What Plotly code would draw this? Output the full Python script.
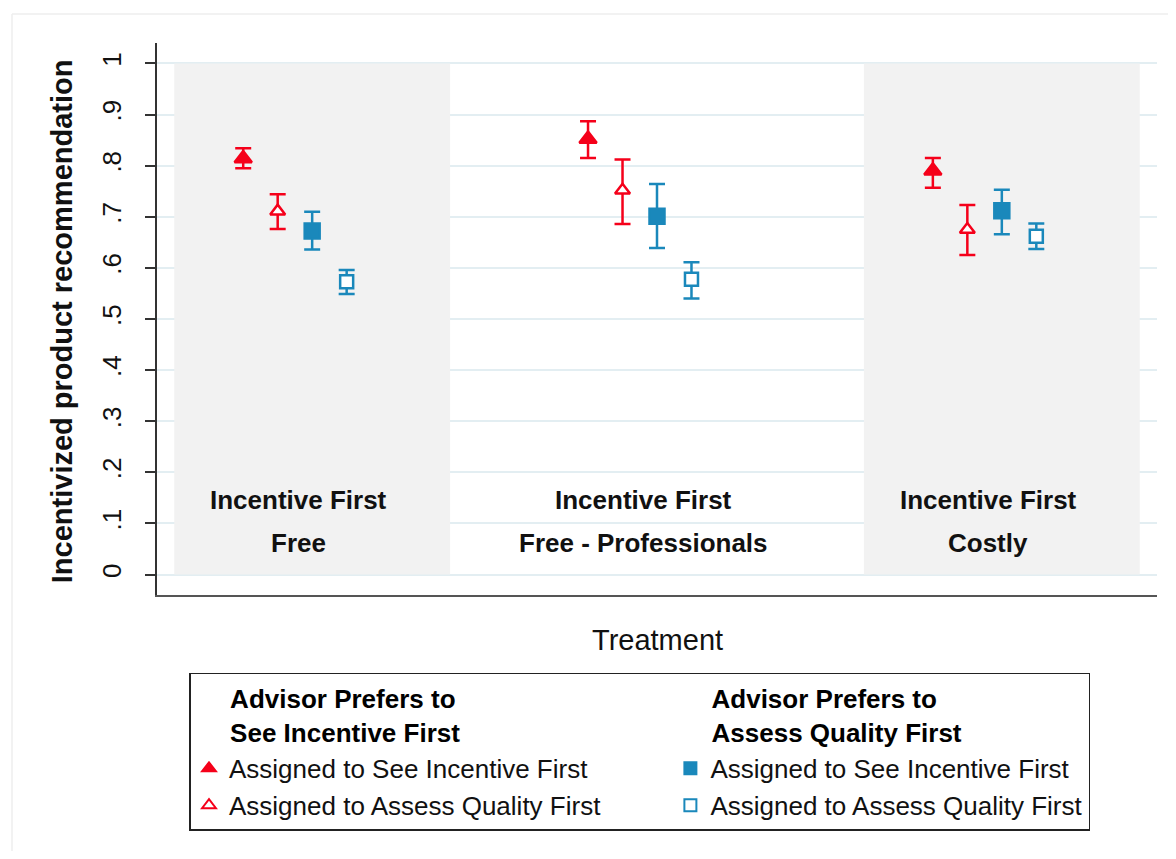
import plotly.graph_objects as go

# ---- data ----
treatments = ["Free", "Free - Professionals", "Costly"]
treatment_line1 = ["Incentive First", "Incentive First", "Incentive First"]
group_base = [1, 11, 21]

series_names = [
    "Assigned to See Incentive First",
    "Assigned to Assess Quality First",
    "Assigned to See Incentive First",
    "Assigned to Assess Quality First",
]
series_groups = [
    "Advisor Prefers to<br>See Incentive First",
    "Advisor Prefers to<br>See Incentive First",
    "Advisor Prefers to<br>Assess Quality First",
    "Advisor Prefers to<br>Assess Quality First",
]

mean_ii = [0.814, 0.852, 0.790]
lo_ii = [0.795, 0.815, 0.757]
hi_ii = [0.834, 0.887, 0.815]

mean_iq = [0.711, 0.752, 0.675]
lo_iq = [0.676, 0.686, 0.625]
hi_iq = [0.744, 0.812, 0.723]

mean_qi = [0.672, 0.701, 0.712]
lo_qi = [0.636, 0.639, 0.666]
hi_qi = [0.710, 0.764, 0.753]

mean_qq = [0.573, 0.578, 0.662]
lo_qq = [0.549, 0.540, 0.637]
hi_qq = [0.596, 0.611, 0.687]

y_ticks = [0, 0.1, 0.2, 0.3, 0.4, 0.5, 0.6, 0.7, 0.8, 0.9, 1.0]
y_ticktext = ["0", ".1", ".2", ".3", ".4", ".5", ".6", ".7", ".8", ".9", "1"]

# ---- styling ----
RED = "#f5001a"
BLUE = "#1a88bb"
FONT = "Liberation Sans, Arial, Helvetica, sans-serif"
IND = "\u00a0\u00a0\u00a0\u00a0\u00a0"
COLPAD = "\u00a0" * 9  # pushes the second legend column to the right

means = [mean_ii, mean_iq, mean_qi, mean_qq]
los = [lo_ii, lo_iq, lo_qi, lo_qq]
his = [hi_ii, hi_iq, hi_qi, hi_qq]
colors = [RED, RED, BLUE, BLUE]
symbols = ["triangle-up", "triangle-up", "square", "square"]
fills = [RED, "white", BLUE, "white"]
sizes = [15, 13, 15, 13]

fig = go.Figure()
for k in range(4):
    xs = [b + k for b in group_base]
    m = means[k]
    gtitle = IND + series_groups[k].replace("<br>", "<br>" + IND)
    label = series_names[k] + (COLPAD if k == 1 else "")
    fig.add_trace(go.Scatter(
        x=xs, y=m, mode="markers",
        name=label,
        legendgroup=series_groups[k],
        legendgrouptitle=dict(text=gtitle,
                              font=dict(family=FONT, size=26, color="black", weight="bold")),
        marker=dict(symbol=symbols[k], size=sizes[k], color=fills[k],
                    line=dict(color=colors[k], width=2.5)),
        error_y=dict(type="data", symmetric=False,
                     array=[h - v for h, v in zip(his[k], m)],
                     arrayminus=[v - l for l, v in zip(los[k], m)],
                     color=colors[k], thickness=2.5, width=8),
    ))

shapes = []
# grey treatment panels
for x0, x1 in [(-1, 7), (19, 27)]:
    shapes.append(dict(type="rect", xref="x", yref="y", x0=x0, x1=x1, y0=0, y1=1,
                       fillcolor="#f2f2f2", line=dict(width=0), layer="between"))
# faint outer graph-region frame
shapes.append(dict(type="line", xref="paper", yref="paper", x0=-0.145, x1=1.03,
                   y0=1.0525, y1=1.0525, line=dict(color="#eeeeee", width=1.5)))
shapes.append(dict(type="line", xref="paper", yref="paper", x0=-0.145, x1=-0.145,
                   y0=-0.5, y1=1.0525, line=dict(color="#eeeeee", width=1.5)))

annotations = []
for i in range(3):
    cx = group_base[i] + 1.6
    annotations.append(dict(x=cx, y=0.146, xref="x", yref="y", text=treatment_line1[i],
                            showarrow=False, xanchor="center", yanchor="middle",
                            font=dict(family=FONT, size=26, color="#111", weight="bold")))
    annotations.append(dict(x=cx, y=0.062, xref="x", yref="y", text=treatments[i],
                            showarrow=False, xanchor="center", yanchor="middle",
                            font=dict(family=FONT, size=26, color="#111", weight="bold")))
annotations.append(dict(x=0.5, y=-0.0815, xref="paper", yref="paper", text="Treatment",
                        showarrow=False, xanchor="center", yanchor="middle",
                        font=dict(family=FONT, size=29, color="#111")))
annotations.append(dict(x=-0.095, y=0.496, xref="paper", yref="paper",
                        text="Incentivized product recommendation", textangle=-90,
                        showarrow=False, xanchor="center", yanchor="middle",
                        font=dict(family=FONT, size=29, color="#111", weight="bold")))

fig.update_layout(
    width=1160, height=843,
    margin=dict(l=149, r=11, t=35, b=256, autoexpand=False),
    paper_bgcolor="white", plot_bgcolor="white",
    font=dict(family=FONT, color="#111"),
    shapes=shapes, annotations=annotations,
    showlegend=True,
    legend=dict(orientation="h", traceorder="grouped", x=0.032, y=-0.141,
                xanchor="left", yanchor="top",
                bordercolor="#222", borderwidth=1.5, bgcolor="white",
                font=dict(family=FONT, size=26, color="#111"),
                itemsizing="constant"),
    xaxis=dict(range=[-1.5, 27.5], showgrid=False, zeroline=False,
               showticklabels=False, ticks="", showline=True,
               linecolor="#555", linewidth=2),
    yaxis=dict(range=[-0.04, 1.04], tickvals=y_ticks, ticktext=y_ticktext,
               tickangle=-90, ticks="outside", ticklen=10, tickwidth=1.5,
               tickcolor="#333", showline=True, linecolor="#333", linewidth=1.5,
               showgrid=True, gridcolor="#e3eef2", gridwidth=1.5, zeroline=False,
               ticklabelstandoff=14,
               tickfont=dict(family=FONT, size=26, color="#111")),
)

fig.write_html("out.html")
